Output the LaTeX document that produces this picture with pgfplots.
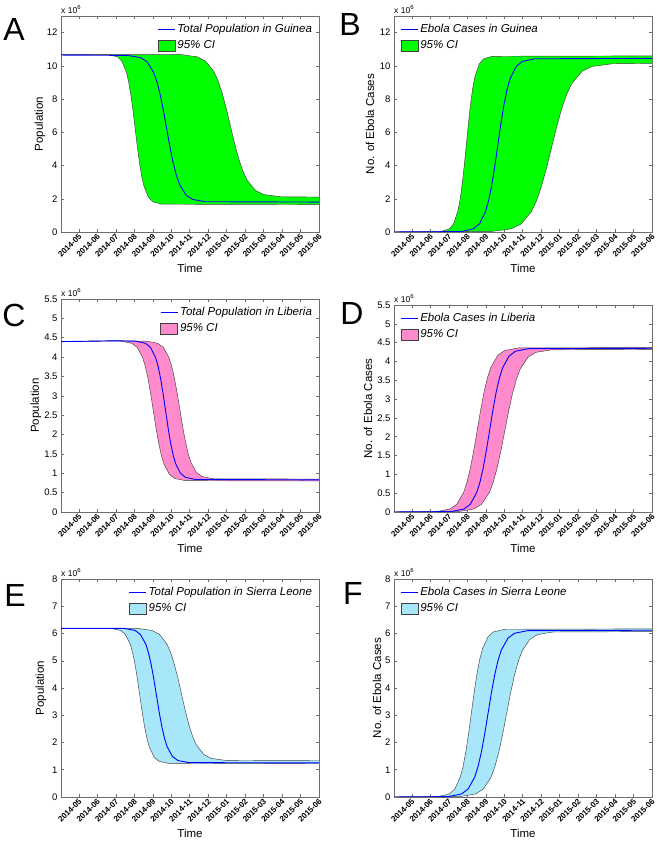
\documentclass[border=0pt]{standalone}
\usepackage{fontspec}
\setmainfont{Liberation Sans}
\usepackage{pgfplots}
\usepackage{pgfplotstable}
\pgfplotsset{compat=1.18}
\usepgfplotslibrary{fillbetween}

\definecolor{cigreen}{RGB}{0,255,0}
\definecolor{cipink}{RGB}{255,138,204}
\definecolor{ciblue}{RGB}{168,230,250}
\definecolor{boxgray}{RGB}{110,110,110}

% curves in millions, x in months (0 = 2014-05)
% Guinea
\pgfplotstableread{
x y
-0.97 10.65
2.65 10.628
3.35 10.491
3.70 10.231
4.05 9.595
4.225 9.036
4.40 8.270
4.575 7.309
4.75 6.225
4.925 5.141
5.10 4.180
5.275 3.414
5.45 2.855
5.80 2.219
6.15 1.959
6.85 1.822
13 1.80
}\Amid
\pgfplotstableread{
x y
-0.97 10.68
1.61 10.677
2.09 10.537
2.33 10.271
2.57 9.621
2.69 9.049
2.81 8.266
2.93 7.284
3.05 6.175
3.17 5.066
3.29 4.084
3.41 3.301
3.53 2.729
3.77 2.079
4.01 1.813
4.49 1.673
13 1.65
}\Alo
\pgfplotstableread{
x y
-0.97 10.68
5.50 10.679
6.40 10.545
6.85 10.292
7.30 9.675
7.525 9.131
7.75 8.387
7.975 7.454
8.2 6.4
8.425 5.347
8.65 4.413
8.875 3.669
9.10 3.125
9.55 2.508
10.0 2.255
10.9 2.122
13 2.10
}\Ahi
\pgfplotstableread{
x y
-0.97 0
2.67 0.026
3.33 0.188
3.66 0.495
3.99 1.246
4.155 1.906
4.32 2.810
4.485 3.945
4.65 5.225
4.815 6.505
4.98 7.640
5.145 8.544
5.31 9.204
5.64 9.955
5.97 10.262
6.63 10.424
13 10.45
}\Bmid
\pgfplotstableread{
x y
-0.97 0
1.57 0.027
2.03 0.191
2.26 0.502
2.49 1.264
2.605 1.933
2.72 2.850
2.835 4.002
2.95 5.3
3.065 6.599
3.18 7.750
3.295 8.667
3.41 9.336
3.64 10.098
3.87 10.409
4.33 10.574
13 10.6
}\Blo
\pgfplotstableread{
x y
-0.97 0
4.26 0.025
5.36 0.183
5.91 0.481
6.46 1.210
6.735 1.851
7.01 2.729
7.285 3.832
7.56 5.075
7.835 6.318
8.11 7.421
8.385 8.299
8.66 8.940
9.21 9.669
9.76 9.967
10.86 10.125
13 10.15
}\Bhi
% Liberia
\pgfplotstableread{
x y
-0.97 4.40
2.0 4.42
3.07 4.411
3.61 4.355
3.88 4.250
4.15 3.992
4.285 3.765
4.42 3.455
4.555 3.065
4.69 2.625
4.825 2.185
4.96 1.795
5.095 1.485
5.23 1.258
5.50 1.000
5.77 0.895
6.31 0.839
13 0.83
}\Cmid
\pgfplotstableread{
x y
-0.97 4.40
2.0 4.42
2.29 4.411
2.87 4.355
3.16 4.248
3.45 3.988
3.595 3.760
3.74 3.447
3.885 3.053
4.03 2.61
4.175 2.167
4.32 1.773
4.465 1.460
4.61 1.232
4.90 0.972
5.19 0.865
5.77 0.809
13 0.80
}\Clo
\pgfplotstableread{
x y
-0.97 4.40
2.0 4.42
3.67 4.411
4.27 4.356
4.57 4.251
4.87 3.994
5.02 3.769
5.17 3.460
5.32 3.072
5.47 2.635
5.62 2.198
5.77 1.810
5.92 1.501
6.07 1.276
6.37 1.019
6.67 0.914
7.27 0.859
13 0.85
}\Chi
\pgfplotstableread{
x y
-0.97 0
2.11 0.011
2.81 0.078
3.16 0.206
3.51 0.519
3.685 0.793
3.86 1.170
4.035 1.642
4.21 2.175
4.385 2.708
4.56 3.180
4.735 3.557
4.91 3.831
5.26 4.144
5.61 4.272
6.31 4.339
13 4.35
}\Dmid
\pgfplotstableread{
x y
-0.97 0
1.32 0.011
2.06 0.079
2.43 0.207
2.80 0.521
2.985 0.797
3.17 1.175
3.355 1.650
3.54 2.185
3.725 2.720
3.91 3.195
4.095 3.573
4.28 3.849
4.65 4.163
5.02 4.291
5.76 4.359
13 4.37
}\Dlo
\pgfplotstableread{
x y
-0.97 0
2.51 0.011
3.35 0.078
3.77 0.205
4.19 0.515
4.40 0.788
4.61 1.162
4.82 1.631
5.03 2.16
5.24 2.689
5.45 3.158
5.66 3.532
5.87 3.805
6.29 4.115
6.71 4.242
7.55 4.309
13 4.32
}\Dhi
% Sierra Leone
\pgfplotstableread{
x y
-0.97 6.19
2.46 6.188
3.04 6.111
3.33 5.965
3.62 5.610
3.765 5.297
3.91 4.869
4.055 4.331
4.2 3.725
4.345 3.119
4.49 2.581
4.635 2.153
4.78 1.840
5.07 1.485
5.36 1.339
5.94 1.262
13 1.25
}\Emid
\pgfplotstableread{
x y
-0.97 6.19
1.74 6.188
2.26 6.110
2.52 5.964
2.78 5.606
2.91 5.292
3.04 4.861
3.17 4.320
3.3 3.71
3.43 3.100
3.56 2.559
3.69 2.128
3.82 1.814
4.08 1.456
4.34 1.310
4.86 1.232
13 1.22
}\Elo
\pgfplotstableread{
x y
-0.97 6.19
3.16 6.188
3.96 6.112
4.36 5.969
4.76 5.619
4.96 5.312
5.16 4.890
5.36 4.362
5.56 3.765
5.76 3.168
5.96 2.640
6.16 2.218
6.36 1.911
6.76 1.561
7.16 1.418
7.96 1.342
13 1.33
}\Ehi
\pgfplotstableread{
x y
-0.97 0
1.96 0.015
2.68 0.110
3.04 0.290
3.40 0.730
3.58 1.116
3.76 1.646
3.94 2.310
4.12 3.06
4.30 3.810
4.48 4.474
4.66 5.004
4.84 5.390
5.20 5.830
5.56 6.010
6.28 6.105
13 6.12
}\Fmid
\pgfplotstableread{
x y
-0.97 0
1.42 0.015
2.02 0.111
2.32 0.292
2.62 0.735
2.77 1.125
2.92 1.659
3.07 2.329
3.22 3.085
3.37 3.841
3.52 4.511
3.67 5.045
3.82 5.435
4.12 5.878
4.42 6.059
5.02 6.155
13 6.17
}\Flo
\pgfplotstableread{
x y
-0.97 0
2.60 0.015
3.44 0.109
3.86 0.288
4.28 0.724
4.49 1.107
4.70 1.632
4.91 2.291
5.12 3.035
5.33 3.779
5.54 4.438
5.75 4.963
5.96 5.346
6.38 5.783
6.80 5.961
7.64 6.055
13 6.07
}\Fhi

\pgfplotsset{
  edgeline/.style={draw=black!75, line width=0.45bp, forget plot},
  midline/.style={blue, line width=0.9bp, forget plot},
  ylab/.style={ylabel style={at={([xshift=-#1]axis description cs:0,0.5)}}},
  ebola/.style={
    scale only axis, width=258bp, anchor=south west, set layers,
    clip mode=individual,
    xmin=-0.97, xmax=13, xtick={0,...,13},
    xticklabels={2014-05,2014-06,2014-07,2014-08,2014-09,2014-10,2014-11,
      2014-12,2015-01,2015-02,2015-03,2015-04,2015-05,2015-06},
    xticklabel style={rotate=45, anchor=east, inner sep=1bp, yshift=-3bp,
      font=\fontsize{8bp}{8bp}\selectfont\bfseries},
    yticklabel style={font=\fontsize{9.5bp}{10bp}\selectfont},
    /pgf/number format/assume math mode=true,
    tick align=inside, major tick length=3bp,
    tick style={boxgray, line width=0.5bp},
    axis line style={boxgray, line width=0.6bp},
    xlabel=Time,
    xlabel style={at={([yshift=-36bp]axis description cs:0.5,0)}, anchor=center,
      font=\fontsize{11.5bp}{13bp}\selectfont},
    ylabel style={anchor=center, font=\fontsize{11.5bp}{13bp}\selectfont},
    legend cell align=left,
    legend style={draw=none, fill=none, row sep=2.5bp, inner sep=1bp,
      font=\fontsize{11.5bp}{13bp}\selectfont\itshape},
  },
  ciarea/.style={legend image code/.code={
      \draw[#1] (0cm,-0.2cm) rectangle (0.6cm,0.2cm);}},
}
\tikzset{xten/.style={anchor=south west, inner sep=0pt, yshift=2bp,
    font=\fontsize{8.5bp}{9bp}\selectfont},
  letter/.style={font=\fontsize{32bp}{32bp}\selectfont, inner sep=0pt}}

\begin{document}
\begin{tikzpicture}
\path (0,0) rectangle (657bp,841bp);

% A
\begin{axis}[ebola, at={(61bp,609bp)}, height=216bp,
  ymin=0, ymax=13, ytick={0,2,...,12}, ylabel=Population, ylab=21bp,
  legend style={at={(0.985,0.975)}, anchor=north east}]
\addlegendimage{blue, line width=0.9bp}
\addlegendentry{Total Population in Guinea}
\addlegendimage{ciarea, fill=cigreen, draw=black!75, line width=0.45bp}
\addlegendentry{95\% CI}
\addplot[edgeline, name path=lo] table {\Alo};
\addplot[edgeline, name path=hi] table {\Ahi};
\addplot[fill=cigreen, forget plot] fill between[of=lo and hi];
\addplot[midline] table {\Amid};
\node[xten] at (rel axis cs:0,1) {x 10\textsuperscript{6}};
\end{axis}

% B
\begin{axis}[ebola, at={(394bp,609bp)}, height=216bp,
  ymin=0, ymax=13, ytick={0,2,...,12}, ylabel={No. of Ebola Cases}, ylab=24bp,
  legend style={at={(0.02,0.975)}, anchor=north west}]
\addlegendimage{blue, line width=0.9bp}
\addlegendentry{Ebola Cases in Guinea}
\addlegendimage{ciarea, fill=cigreen, draw=black!75, line width=0.45bp}
\addlegendentry{95\% CI}
\addplot[edgeline, name path=lo] table {\Blo};
\addplot[edgeline, name path=hi] table {\Bhi};
\addplot[fill=cigreen, forget plot] fill between[of=lo and hi];
\addplot[midline] table {\Bmid};
\node[xten] at (rel axis cs:0,1) {x 10\textsuperscript{6}};
\end{axis}

% C
\begin{axis}[ebola, at={(61bp,329bp)}, height=213bp,
  ymin=0, ymax=5.5, ytick={0,0.5,...,5.5}, ylabel=Population, ylab=25bp,
  legend style={at={(0.985,0.975)}, anchor=north east}]
\addlegendimage{blue, line width=0.9bp}
\addlegendentry{Total Population in Liberia}
\addlegendimage{ciarea, fill=cipink, draw=black!75, line width=0.45bp}
\addlegendentry{95\% CI}
\addplot[edgeline, name path=lo] table {\Clo};
\addplot[edgeline, name path=hi] table {\Chi};
\addplot[fill=cipink, forget plot] fill between[of=lo and hi];
\addplot[midline] table {\Cmid};
\node[xten] at (rel axis cs:0,1) {x 10\textsuperscript{6}};
\end{axis}

% D
\begin{axis}[ebola, at={(394bp,329bp)}, height=207bp,
  ymin=0, ymax=5.5, ytick={0,0.5,...,5.5}, ylabel={No. of Ebola Cases}, ylab=26bp,
  legend style={at={(0.02,0.975)}, anchor=north west}]
\addlegendimage{blue, line width=0.9bp}
\addlegendentry{Ebola Cases in Liberia}
\addlegendimage{ciarea, fill=cipink, draw=black!75, line width=0.45bp}
\addlegendentry{95\% CI}
\addplot[edgeline, name path=lo] table {\Dlo};
\addplot[edgeline, name path=hi] table {\Dhi};
\addplot[fill=cipink, forget plot] fill between[of=lo and hi];
\addplot[midline] table {\Dmid};
\node[xten] at (rel axis cs:0,1) {x 10\textsuperscript{6}};
\end{axis}

% E
\begin{axis}[ebola, at={(61bp,44bp)}, height=218bp,
  ymin=0, ymax=8, ytick={0,1,...,8}, ylabel=Population, ylab=20bp,
  legend style={at={(0.985,0.975)}, anchor=north east}]
\addlegendimage{blue, line width=0.9bp}
\addlegendentry{Total Population in Sierra Leone}
\addlegendimage{ciarea, fill=ciblue, draw=black!75, line width=0.45bp}
\addlegendentry{95\% CI}
\addplot[edgeline, name path=lo] table {\Elo};
\addplot[edgeline, name path=hi] table {\Ehi};
\addplot[fill=ciblue, forget plot] fill between[of=lo and hi];
\addplot[midline] table {\Emid};
\node[xten] at (rel axis cs:0,1) {x 10\textsuperscript{6}};
\end{axis}

% F
\begin{axis}[ebola, at={(394bp,44bp)}, height=218bp,
  ymin=0, ymax=8, ytick={0,1,...,8}, ylabel={No. of Ebola Cases}, ylab=17bp,
  legend style={at={(0.02,0.975)}, anchor=north west}]
\addlegendimage{blue, line width=0.9bp}
\addlegendentry{Ebola Cases in Sierra Leone}
\addlegendimage{ciarea, fill=ciblue, draw=black!75, line width=0.45bp}
\addlegendentry{95\% CI}
\addplot[edgeline, name path=lo] table {\Flo};
\addplot[edgeline, name path=hi] table {\Fhi};
\addplot[fill=ciblue, forget plot] fill between[of=lo and hi];
\addplot[midline] table {\Fmid};
\node[xten] at (rel axis cs:0,1) {x 10\textsuperscript{6}};
\end{axis}

\node[letter] at (14bp,811bp) {A};
\node[letter] at (350bp,816bp) {B};
\node[letter] at (14bp,526bp) {C};
\node[letter] at (352bp,528bp) {D};
\node[letter] at (15bp,246bp) {E};
\node[letter] at (353bp,248bp) {F};
\end{tikzpicture}
\end{document}
